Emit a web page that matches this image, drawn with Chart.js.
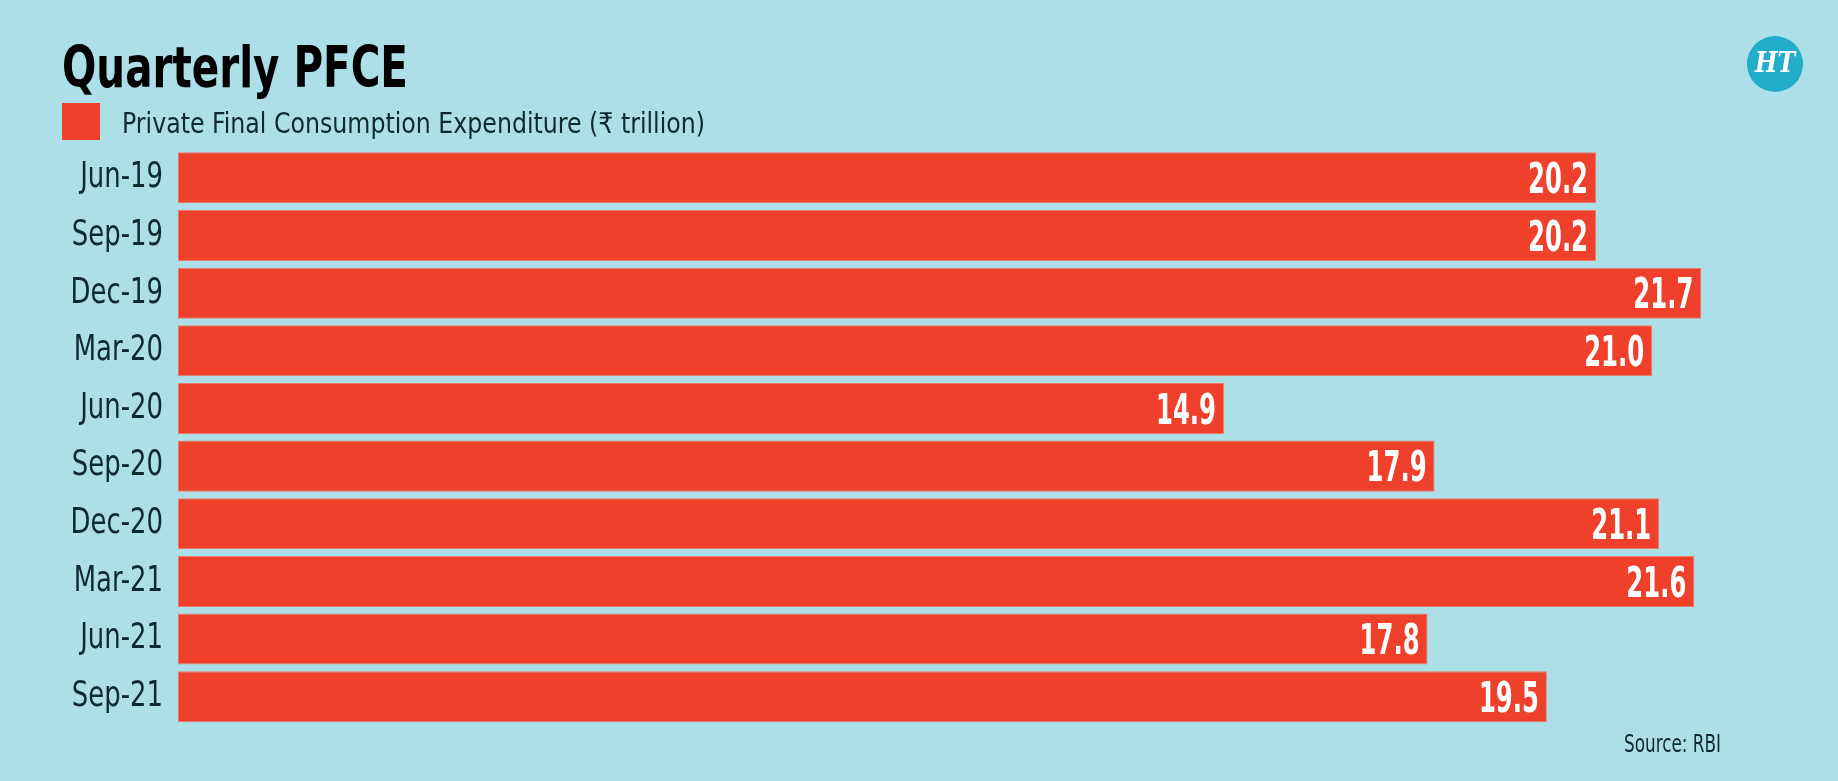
<!DOCTYPE html>
<html>
<head>
<meta charset="utf-8">
<script src="https://cdn.jsdelivr.net/npm/chart.js@4.4.1/dist/chart.umd.min.js"></script>
<style>
  html, body { margin: 0; padding: 0; background: #ADDFE8; }
  #wrap { width: 1838px; height: 781px; position: relative; }
</style>
</head>
<body>
<div id="wrap"><canvas id="c" width="1838" height="781"></canvas></div>
<script>
// ---- data ----
const title = 'Quarterly PFCE';
const seriesLabel = 'Private Final Consumption Expenditure (₹ trillion)';
const categories = ['Jun-19', 'Sep-19', 'Dec-19', 'Mar-20', 'Jun-20', 'Sep-20', 'Dec-20', 'Mar-21', 'Jun-21', 'Sep-21'];
const values = [20.2, 20.2, 21.7, 21.0, 14.9, 17.9, 21.1, 21.6, 17.8, 19.5];
const sourceText = 'Source: RBI';
const logoText = 'HT';

const BG = '#ADDFE8';
const BAR = '#EE402A';
const BAR_EDGE = '#EF7A68';
const TEXT_DARK = '#0E2A31';
const COND = "'DejaVu Sans Condensed', 'Liberation Sans Narrow', sans-serif";
const TICK_SQUEEZE = 0.8;

// category scale whose labels are drawn horizontally condensed
class CondensedCategoryScale extends Chart.CategoryScale {
  drawLabels(chartArea) {
    const ctx = this.ctx;
    const ax = this.right - this.options.ticks.padding;
    ctx.save();
    ctx.translate(ax, 0);
    ctx.scale(TICK_SQUEEZE, 1);
    ctx.translate(-ax, 0);
    super.drawLabels(chartArea);
    ctx.restore();
  }
}
CondensedCategoryScale.id = 'condensedCategory';
CondensedCategoryScale.defaults = Chart.CategoryScale.defaults;
Chart.register(CondensedCategoryScale);

// draw text squeezed to a target width, anchored by align
function fitText(ctx, text, x, y, targetW, align) {
  const w = ctx.measureText(text).width;
  const s = Math.min(1, targetW / w);
  ctx.save();
  ctx.translate(x, y);
  ctx.scale(s, 1);
  ctx.textAlign = align;
  ctx.fillText(text, 0, 0);
  ctx.restore();
}

const decorPlugin = {
  id: 'decor',
  beforeDraw(chart) {
    const ctx = chart.ctx;
    ctx.save();
    ctx.fillStyle = BG;
    ctx.fillRect(0, 0, chart.width, chart.height);
    ctx.restore();
  },
  afterDraw(chart) {
    const ctx = chart.ctx;
    ctx.save();
    ctx.textBaseline = 'alphabetic';
    // title
    ctx.fillStyle = '#000000';
    ctx.font = 'bold 57px ' + COND;
    fitText(ctx, title, 62, 87, 346, 'left');
    // legend
    ctx.fillStyle = BAR;
    ctx.fillRect(62, 103, 38, 37);
    ctx.fillStyle = TEXT_DARK;
    ctx.font = '28.5px ' + COND;
    fitText(ctx, chart.data.datasets[0].label, 122, 132.5, 583, 'left');
    // source
    ctx.font = '24.5px ' + COND;
    fitText(ctx, sourceText, 1721, 752, 97, 'right');
    // logo
    ctx.beginPath();
    ctx.arc(1775, 64, 28, 0, Math.PI * 2);
    ctx.fillStyle = '#22AECB';
    ctx.fill();
    ctx.fillStyle = '#FFFFFF';
    ctx.textBaseline = 'middle';
    ctx.font = 'italic bold 28px "DejaVu Serif", serif';
    fitText(ctx, logoText, 1775, 65, 40, 'center');
    ctx.restore();
  }
};

const valueLabelPlugin = {
  id: 'valueLabels',
  afterDatasetsDraw(chart) {
    const ctx = chart.ctx;
    const meta = chart.getDatasetMeta(0);
    const ds = chart.data.datasets[0];
    const size = 42;
    ctx.save();
    ctx.fillStyle = '#FFFFFF';
    ctx.font = 'bold ' + size + 'px ' + COND;
    ctx.textAlign = 'right';
    ctx.textBaseline = 'alphabetic';
    const squeeze = 60 / ctx.measureText('20.2').width;
    meta.data.forEach((el, i) => {
      ctx.save();
      ctx.translate(el.x - 8, el.y + size * 0.364);
      ctx.scale(squeeze, 1);
      ctx.fillText(ds.data[i].toFixed(1), 0, 0);
      ctx.restore();
    });
    ctx.restore();
  }
};

new Chart(document.getElementById('c'), {
  type: 'bar',
  data: {
    labels: categories,
    datasets: [{
      label: seriesLabel,
      data: values,
      backgroundColor: BAR,
      borderColor: BAR_EDGE,
      borderWidth: 1,
      borderSkipped: false,
      categoryPercentage: 1,
      barPercentage: 0.885
    }]
  },
  options: {
    indexAxis: 'y',
    responsive: false,
    animation: false,
    devicePixelRatio: 1,
    layout: { padding: { top: 149, bottom: 55.4, left: 0, right: 45.4 } },
    plugins: {
      legend: { display: false },
      title: { display: false },
      tooltip: { enabled: false }
    },
    scales: {
      x: {
        display: false,
        min: 0,
        max: 23
      },
      y: {
        type: 'condensedCategory',
        afterFit(scale) { scale.width = 178; },
        grid: { display: false, drawTicks: false },
        border: { display: false },
        ticks: {
          padding: 15,
          color: TEXT_DARK,
          font: { family: COND, size: 36 }
        }
      }
    }
  },
  plugins: [decorPlugin, valueLabelPlugin]
});
</script>
</body>
</html>
